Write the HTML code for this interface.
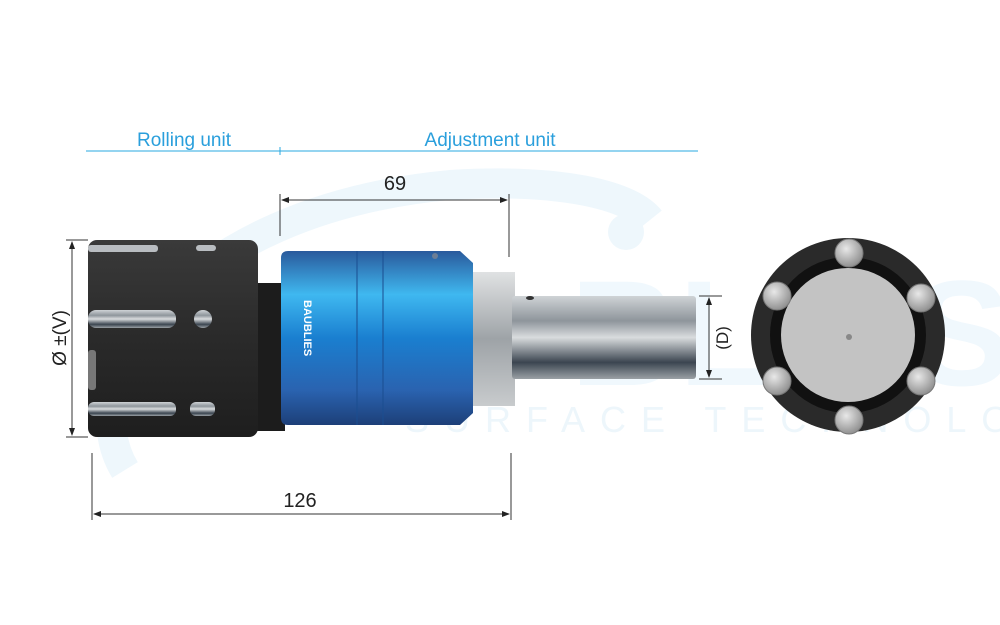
<!DOCTYPE html>
<html><head><style>body{margin:0;background:#fff}svg{display:block}</style></head><body>
<svg width="1000" height="625" viewBox="0 0 1000 625" xmlns="http://www.w3.org/2000/svg" font-family="Liberation Sans, sans-serif">
<defs>
<linearGradient id="blue" x1="0" y1="0" x2="0" y2="1">
<stop offset="0" stop-color="#2a5a9c"/><stop offset="0.25" stop-color="#3fb8f0"/><stop offset="0.5" stop-color="#1a7fd0"/><stop offset="0.8" stop-color="#2a63b0"/><stop offset="1" stop-color="#1d3f78"/></linearGradient>
<linearGradient id="steel" x1="0" y1="0" x2="0" y2="1">
<stop offset="0" stop-color="#cfd3d6"/><stop offset="0.3" stop-color="#8e959b"/><stop offset="0.5" stop-color="#d9dcde"/><stop offset="0.8" stop-color="#3b4550"/><stop offset="1" stop-color="#9aa0a5"/></linearGradient>
<linearGradient id="hub" x1="0" y1="0" x2="0" y2="1">
<stop offset="0" stop-color="#e0e2e3"/><stop offset="0.5" stop-color="#9ea3a7"/><stop offset="1" stop-color="#c8cbcd"/></linearGradient>
<linearGradient id="blk" x1="0" y1="0" x2="0" y2="1">
<stop offset="0" stop-color="#3a3a3a"/><stop offset="0.5" stop-color="#2a2a2a"/><stop offset="1" stop-color="#1e1e1e"/></linearGradient>
<radialGradient id="ball" cx="0.4" cy="0.35" r="0.7"><stop offset="0" stop-color="#e8e8e8"/><stop offset="1" stop-color="#8a8a8a"/></radialGradient>
</defs>
<!-- watermark -->
<path d="M125 470 C 70 380, 180 210, 450 185 C 560 178, 630 195, 650 220" fill="none" stroke="#eef7fc" stroke-width="30"/>
<circle cx="626" cy="232" r="18" fill="#eef7fc"/>
<text x="570" y="385" font-size="150" font-weight="bold" fill="#f0f8fd">BLIES</text>
<text x="405" y="432" font-size="36" letter-spacing="15" fill="#edf6fb">SURFACE TECHNOLOGY</text>
<!-- top labels -->
<line x1="86" y1="151" x2="698" y2="151" stroke="#2aa8e0" stroke-width="1"/>
<line x1="280" y1="147" x2="280" y2="155" stroke="#2aa8e0"/>
<text x="184" y="146" font-size="19" fill="#2a9fdc" text-anchor="middle">Rolling unit</text>
<text x="490" y="146" font-size="19" fill="#2a9fdc" text-anchor="middle">Adjustment unit</text>
<!-- 69 -->
<text x="395" y="190" font-size="20" fill="#222" text-anchor="middle">69</text>
<g stroke="#333" stroke-width="1">
<line x1="280" y1="194" x2="280" y2="236"/><line x1="509" y1="194" x2="509" y2="257"/>
<line x1="282" y1="200" x2="507" y2="200"/>
<line x1="92" y1="453" x2="92" y2="520"/><line x1="511" y1="453" x2="511" y2="520"/>
<line x1="94" y1="514" x2="509" y2="514"/>
<line x1="66" y1="240" x2="88" y2="240"/><line x1="66" y1="437" x2="88" y2="437"/>
<line x1="72" y1="242" x2="72" y2="435"/>
<line x1="699" y1="296" x2="722" y2="296"/><line x1="699" y1="379" x2="722" y2="379"/>
<line x1="709" y1="298" x2="709" y2="377"/>
</g>
<g fill="#222">
<path d="M281 200l8-3v6z"/><path d="M508 200l-8-3v6z"/>
<path d="M93 514l8-3v6z"/><path d="M510 514l-8-3v6z"/>
<path d="M72 241l-3 8h6z"/><path d="M72 436l-3-8h6z"/>
<path d="M709 297l-3 8h6z"/><path d="M709 378l-3-8h6z"/>
</g>
<text x="300" y="507" font-size="20" fill="#222" text-anchor="middle">126</text>
<text transform="translate(66,338) rotate(-90)" font-size="19" fill="#222" text-anchor="middle">Ø ±(V)</text>
<text transform="translate(728,338) rotate(-90)" font-size="17" fill="#222" text-anchor="middle">(D)</text>
<!-- shaft -->
<rect x="470" y="272" width="45" height="134" fill="url(#hub)"/>
<rect x="512" y="296" width="184" height="83" rx="3" fill="url(#steel)"/>
<ellipse cx="530" cy="298" rx="4" ry="2" fill="#333"/>
<!-- neck -->
<rect x="255" y="283" width="30" height="148" fill="#1c1c1c"/>
<!-- blue body -->
<path d="M281 258q0-7 7-7h172l13 12v150l-13 12h-172q-7 0-7-7z" fill="url(#blue)"/>
<rect x="357" y="251" width="26" height="174" fill="url(#blue)" opacity="0.8"/>
<line x1="357" y1="251" x2="357" y2="425" stroke="#1a4d90"/><line x1="383" y1="251" x2="383" y2="425" stroke="#1a4d90"/>
<text transform="translate(304,300) rotate(90)" font-size="11" font-weight="bold" fill="#fff">BAUBLIES</text>
<circle cx="435" cy="256" r="3" fill="#6c7e96"/>
<!-- collet -->
<rect x="88" y="240" width="170" height="197" rx="9" fill="url(#blk)"/>
<g fill="#b9bdc1">
<rect x="88" y="245" width="70" height="7" rx="3"/><rect x="196" y="245" width="20" height="6" rx="3"/>
<rect x="88" y="310" width="88" height="18" rx="8" fill="url(#steel)"/><circle cx="203" cy="319" r="9" fill="url(#steel)"/>
<rect x="88" y="402" width="88" height="14" rx="6" fill="url(#steel)"/><rect x="190" y="402" width="25" height="14" rx="6" fill="url(#steel)"/>
<rect x="88" y="350" width="8" height="40" rx="3" fill="#777"/>
</g>
<!-- end view -->
<circle cx="848" cy="335" r="97" fill="#2a2a2a"/>
<circle cx="848" cy="335" r="78" fill="#111"/>
<circle cx="848" cy="335" r="67" fill="#c3c3c3"/>
<circle cx="849" cy="337" r="3" fill="#888"/>
<g fill="url(#ball)" stroke="#777" stroke-width="1">
<circle cx="849" cy="253" r="14"/><circle cx="921" cy="298" r="14"/><circle cx="921" cy="381" r="14"/>
<circle cx="849" cy="420" r="14"/><circle cx="777" cy="381" r="14"/><circle cx="777" cy="296" r="14"/>
</g>
</svg>
</body></html>
